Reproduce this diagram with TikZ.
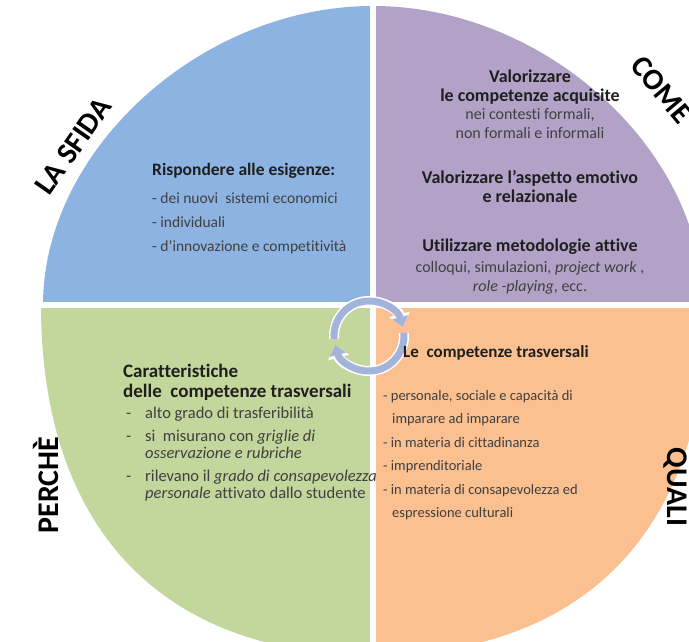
\documentclass[tikz,border=0pt]{standalone}
\usepackage{fontspec}
\setmainfont{Carlito}[Ligatures=CommonOff]
\usepackage{tikz}
\usetikzlibrary{arrows.meta,positioning}
\definecolor{sfida}{HTML}{8DB3E2}
\definecolor{come}{HTML}{B3A2C7}
\definecolor{perche}{HTML}{C3D69B}
\definecolor{quali}{HTML}{FAC090}
\definecolor{ciclo}{RGB}{164,179,218}
\definecolor{testo}{HTML}{404040}

\begin{document}
\begin{tikzpicture}[x=1pt,y=1pt]%[node distance=2.8cm]
\tikzstyle{quadlabel}=[font=\fontsize{30}{30}\selectfont\bfseries, text=black, inner sep=0pt]
\tikzstyle{headtext}=[font=\fontsize{18}{18.5}\selectfont\bfseries, text=black!88, inner sep=0pt]
\tikzstyle{bodytext}=[font=\fontsize{14.5}{23.5}\selectfont, text=testo, inner sep=0pt]
\tikzstyle{ring}=[line width=7pt, draw=ciclo, -{Triangle[width=16pt,length=10pt]}, preaction={draw=white, line width=10pt, -{Triangle[width=21pt,length=13pt]}}]
\clip (-373,-337) rectangle (316,305);
\fill[sfida] (0,0) -- (-330,0) .. controls (-330,155) and (-172,299) .. (0,299) -- cycle;
\fill[come] (0,0) -- (330,0) .. controls (330,155) and (172,299) .. (0,299) -- cycle;
\fill[perche] (0,0) -- (-332,0) .. controls (-332,-222) and (-212,-350) .. (0,-350) -- cycle;
\fill[quali] (0,0) -- (334,0) .. controls (334,-222) and (214,-350) .. (0,-350) -- cycle;
\draw[white, line width=6.5pt] (0,310) -- (0,-360) (-340,0) -- (340,0);

\coordinate (ciclo) at (-4,-31);
\draw[ring] (ciclo) ++(185:35) arc[start angle=185, end angle=15, radius=35];
\draw[ring] (ciclo) ++(5:35) arc[start angle=5, end angle=-165, radius=35];

\node[quadlabel, rotate=55] (lasfida) at (-300,159) {LA SFIDA};
\node[quadlabel, rotate=-50] (come) at (289,215) {COME};
\node[quadlabel, rotate=90] (perche) at (-327,-180) {PERCHÈ};
\node[quadlabel, rotate=-90] (quali) at (302,-182) {QUALI};

\node[bodytext, font=\fontsize{15.5}{24}\selectfont, align=left, anchor=north west] (sfidatxt) at (-221,142) {{\fontsize{17.5}{24}\selectfont\bfseries\color{black!88}Rispondere alle esigenze:}\\[4pt] - dei nuovi\ \ sistemi economici\\ - individuali\\ - d’innovazione e competitività};

\node[headtext, align=center, anchor=north] (comeA) at (157,235) {Valorizzare\\le competenze acquisite\\{\mdseries\fontsize{16}{18.5}\selectfont\color{testo}nei contesti formali,}\\{\mdseries\fontsize{16}{18.5}\selectfont\color{testo}non formali e informali}};
\node[headtext, align=center, below=32pt of comeA] (comeB) {Valorizzare l’aspetto emotivo\\e relazionale};
\node[headtext, align=center, below=36pt of comeB] (comeC) {Utilizzare metodologie attive\\[2.5pt]{\mdseries\fontsize{16}{18.5}\selectfont\color{testo}colloqui, simulazioni, \textit{project work} ,}\\{\mdseries\fontsize{16}{18.5}\selectfont\color{testo}\textit{role -playing}, ecc.}};

\node[headtext, font=\fontsize{19}{20}\selectfont\bfseries, align=left, anchor=north west] (percheA) at (-250,-59) {Caratteristiche\\delle\ \ competenze trasversali};
\node[bodytext, font=\fontsize{16.5}{16.5}\selectfont, below right=6pt and 3pt of percheA.south west] (percheB) {\begin{tabular}{@{}l@{\hspace{14pt}}l@{}}
- & alto grado di trasferibilità\\[7pt]
- & si\ \ misurano con \textit{griglie di}\\
  & \textit{osservazione e rubriche}\\[7pt]
- & rilevano il \textit{grado di consapevolezza}\\
  & \textit{personale} attivato dallo studente
\end{tabular}};

\node[headtext, font=\fontsize{17}{18.5}\selectfont\bfseries, anchor=north west] (qualiA) at (30,-40) {Le\ \ competenze trasversali};
\node[bodytext, align=left, anchor=north west] (qualiB) at (10,-85) {- personale, sociale e capacità di\\\hspace*{9pt}imparare ad imparare\\- in materia di cittadinanza\\- imprenditoriale\\- in materia di consapevolezza ed\\\hspace*{9pt}espressione culturali};
\end{tikzpicture}
\end{document}
